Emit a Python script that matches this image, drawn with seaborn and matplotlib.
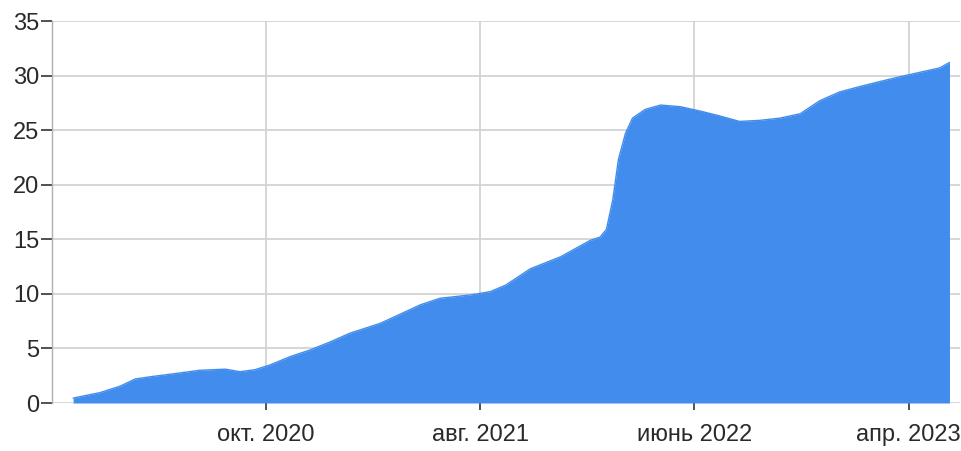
import matplotlib
matplotlib.use('Agg')
import matplotlib.pyplot as plt
import seaborn as sns
import pandas as pd
import numpy as np

# values (date, value)
dates = ['2020-01-01', '2020-02-08', '2020-03-08', '2020-03-29', '2020-04-19',
         '2020-05-25', '2020-06-29', '2020-08-04', '2020-08-25', '2020-09-15',
         '2020-10-07', '2020-11-04', '2020-12-02', '2020-12-31', '2021-01-28',
         '2021-03-12', '2021-05-08', '2021-06-05', '2021-07-18', '2021-08-15',
         '2021-09-06', '2021-10-11', '2021-11-23', '2022-01-04', '2022-01-18',
         '2022-01-27', '2022-02-05', '2022-02-13', '2022-02-23', '2022-03-05',
         '2022-03-23', '2022-04-14', '2022-05-12', '2022-06-09', '2022-07-07',
         '2022-08-04', '2022-09-02', '2022-09-30', '2022-10-29', '2022-11-26',
         '2022-12-24', '2023-01-22', '2023-02-19', '2023-03-20', '2023-04-17',
         '2023-05-15', '2023-05-29']
values = [0.45, 0.95, 1.55, 2.2, 2.4,
          2.7, 3.0, 3.1, 2.87, 3.05,
          3.5, 4.25, 4.85, 5.6, 6.4,
          7.3, 9.0, 9.6, 9.9, 10.2,
          10.8, 12.3, 13.4, 14.9, 15.2,
          15.9, 18.6, 22.3, 24.7, 26.1,
          26.9, 27.3, 27.15, 26.75, 26.3,
          25.8, 25.9, 26.1, 26.5, 27.7,
          28.5, 29.0, 29.45, 29.9, 30.3,
          30.7, 31.2]

tick_dates = ['2020-10-01', '2021-08-01', '2022-06-01', '2023-04-01']
tick_labels = ['окт. 2020', 'авг. 2021', 'июнь 2022', 'апр. 2023']

df = pd.DataFrame({'date': pd.to_datetime(dates), 'value': values})

sns.set_style('whitegrid')
plt.rcParams['font.family'] = ['Liberation Sans', 'DejaVu Sans']

fig = plt.figure(figsize=(9.61, 4.51), dpi=100)
ax = fig.add_axes([0.0541, 0.1064, 0.9449, 0.847])

color = '#418cec'
sns.lineplot(data=df, x='date', y='value', color=color, linewidth=1, ax=ax)
ax.fill_between(df['date'], 0, df['value'], color=color, linewidth=0)

ax.set_xlim(pd.Timestamp('2019-12-02'), pd.Timestamp('2023-06-13'))
ax.set_ylim(0, 35)
ax.set_yticks(np.arange(0, 36, 5))
ax.set_xticks(pd.to_datetime(tick_dates))
ax.set_xticklabels(tick_labels)

ax.set_xlabel('')
ax.set_ylabel('')
ax.grid(True, color='#d0d0d0', linewidth=1.2)
ax.set_axisbelow(True)

for s in ['top', 'right', 'bottom']:
    ax.spines[s].set_visible(False)
ax.spines['left'].set_color('#b0b0b0')
ax.spines['left'].set_linewidth(1)

ax.tick_params(axis='both', which='both', width=1.2, color='#333333',
               labelsize=17, labelcolor='#2a2a2a')
ax.tick_params(axis='y', left=True, length=8, pad=1)
ax.tick_params(axis='x', bottom=True, length=5, pad=10)

fig.savefig('out.png', dpi=100)
